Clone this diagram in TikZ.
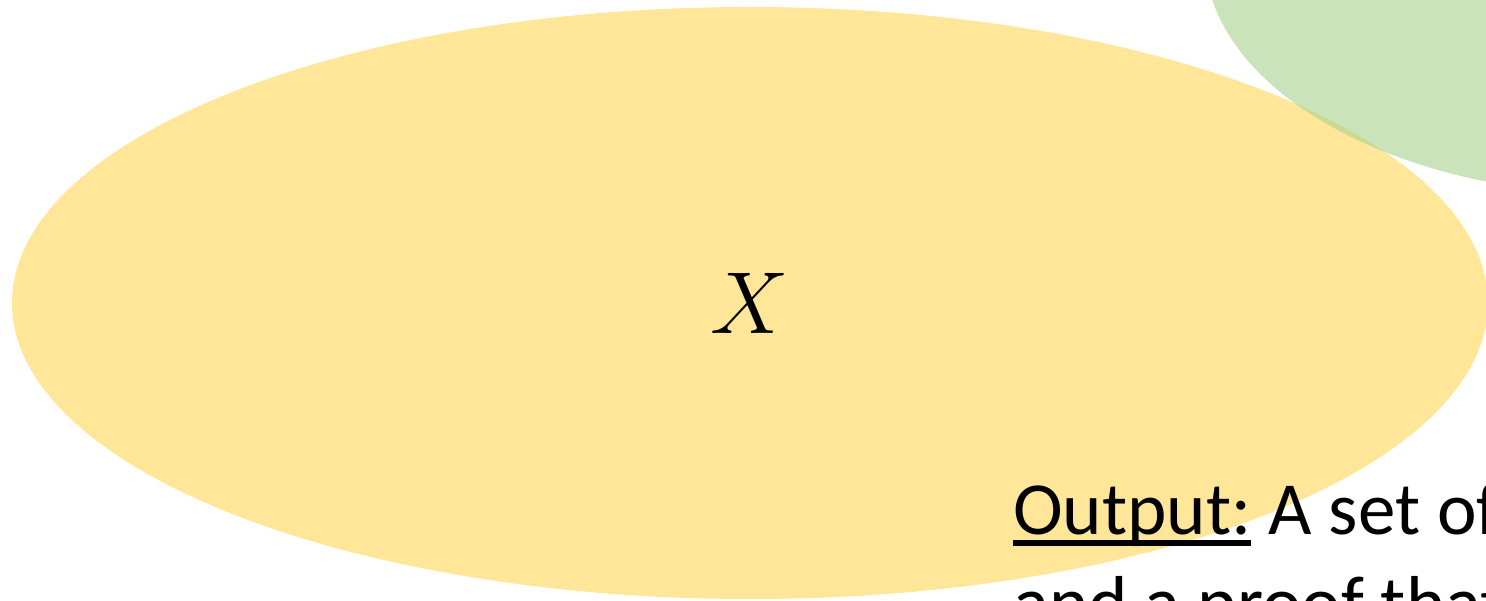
\RequirePackage{fix-cm}
\documentclass[tikz,border=0pt]{standalone}
\usepackage{fontspec}
\setmainfont{Carlito}
\usepackage{tikz}
\usetikzlibrary{shapes.geometric}
\definecolor{setyellow}{HTML}{FFE699}
\definecolor{setgreen}{HTML}{A9D18E}
\newsavebox{\ulbox}
\newcommand{\ulword}[1]{\sbox{\ulbox}{#1}\rlap{\rule[-12pt]{\wd\ulbox}{6pt}}\usebox{\ulbox}}

\begin{document}
\begin{tikzpicture}[x=1pt, y=1pt,
    blob/.style={ellipse, inner sep=0pt, draw=none}]
    % canvas in pixel units, origin bottom left
    \def\W{1486}
    \def\H{600}
    \useasboundingbox (0,0) rectangle (\W,\H);
    \clip (0,0) rectangle (\W,\H);

    % Sets
    \node[blob, fill=setyellow, minimum width=1476, minimum height=592,
        font=\fontsize{88}{100}\selectfont] (xset) at (750,297) {$X$};
    \node[blob, fill=setgreen, fill opacity=0.6, minimum width=840,
        minimum height=480] (yset) at (1625,645) {};

    % Output text (base = last line)
    \node[anchor=base west, inner sep=0pt, align=left,
        font=\fontsize{75}{94}\selectfont] (output) at (1013,-28)
        {\ulword{Output:} A set of\\and a proof that};
\end{tikzpicture}
\end{document}
